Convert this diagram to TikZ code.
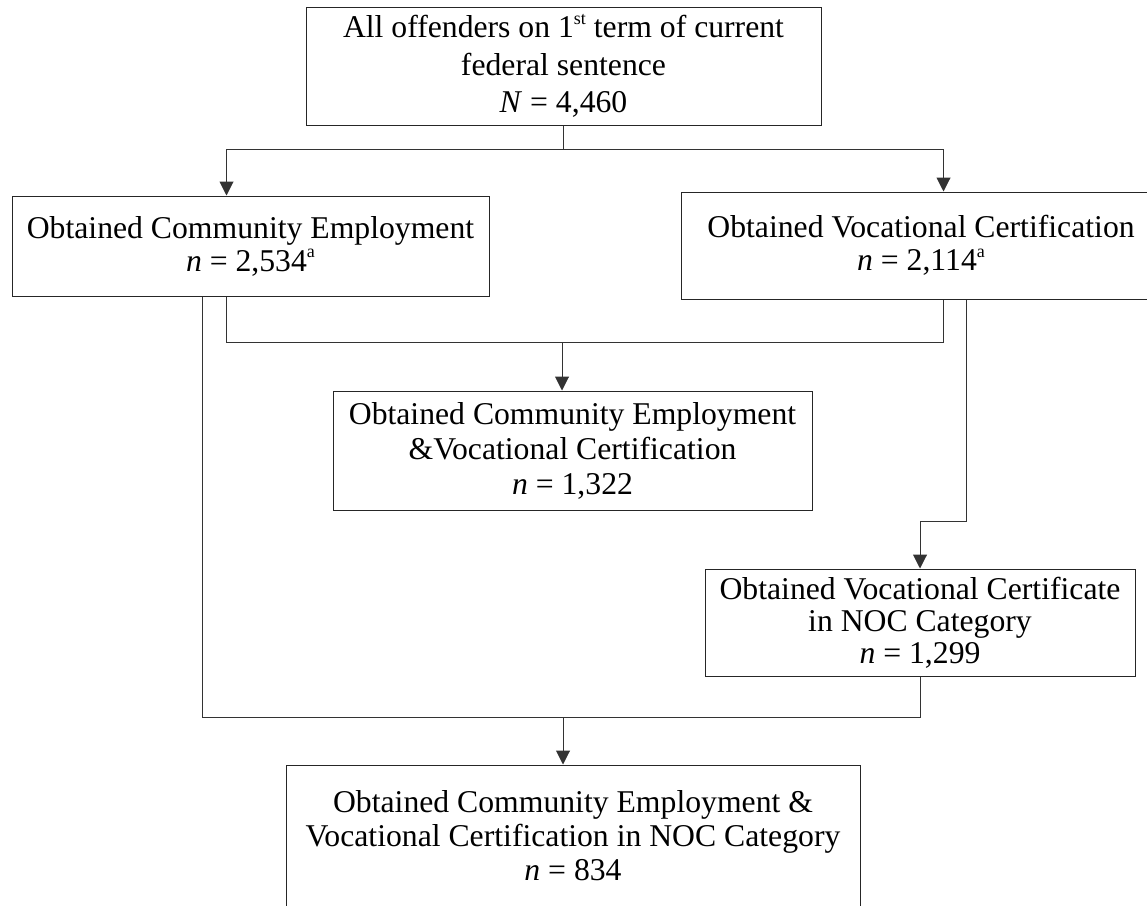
\documentclass[tikz,border=0pt]{standalone}
\usepackage{fontspec}
\setmainfont{Liberation Serif}
\usetikzlibrary{arrows.meta}
\newcommand\supx[1]{\raisebox{0.42em}{\fontsize{18}{18}\selectfont #1}}
\begin{document}
\begin{tikzpicture}[x=1pt,y=-1pt,
  box/.style={draw=black!85, line width=1pt, rectangle, inner sep=0pt, align=center},
  fs/.style={font={\fontsize{31.7}{#1}\selectfont\lineskiplimit=-100pt}},
  conn/.style={draw=black!80, line width=1pt},
  arr/.style={conn, -{Triangle[width=14pt,length=14pt]}}]
\path[use as bounding box] (0,0) rectangle (1147,905);
\clip (0,0) rectangle (1147,905);

\node[box, fs=37.5, minimum width=515pt, minimum height=118pt] (top) at (563.5,66)
  {All offenders on 1\supx{st} term of current\\federal sentence\\\textit{N} = 4,460};
\node[box, fs=33, minimum width=477pt, minimum height=100pt] (left) at (250.5,246)
  {Obtained Community Employment\\\textit{n} = 2,534\supx{a}};
\node[box, fs=33, minimum width=480pt, minimum height=107pt] (right) at (921,245.5)
  {Obtained Vocational Certification\\\textit{n} = 2,114\supx{a}};
\node[box, fs=35, minimum width=479pt, minimum height=119pt] (mid) at (572.5,450.5)
  {Obtained Community Employment\\\&Vocational Certification\\\textit{n} = 1,322};
\node[box, fs=32, minimum width=430pt, minimum height=107pt] (noc) at (920,622.5)
  {Obtained Vocational Certificate\\in NOC Category\\\textit{n} = 1,299};
\node[box, fs=34, minimum width=574pt, minimum height=142pt] (bot) at (573,836)
  {Obtained Community Employment \&\\Vocational Certification in NOC Category\\\textit{n} = 834};

\coordinate (j1) at (563,149);
\coordinate (j2) at (562,342);
\coordinate (j3) at (563,717);

\draw[conn] (top.south) -- (top.south |- j1);
\draw[arr] (j1) -| ([xshift=215pt]left.north west);
\draw[arr] (j1) -| ([xshift=263pt]right.north west);

\draw[conn] ([xshift=215pt]left.south west) |- (j2);
\draw[conn] ([xshift=263pt]right.south west) |- (j2);
\draw[arr] (j2) -- (j2 |- mid.north);

\draw[arr] ([xshift=286pt]right.south west) -- ++(0,222) -| (noc.north);

\draw[conn] ([xshift=191pt]left.south west) |- (j3);
\draw[conn] (noc.south) |- (j3);
\draw[arr] (j3) -- (j3 |- bot.north);
\end{tikzpicture}
\end{document}
